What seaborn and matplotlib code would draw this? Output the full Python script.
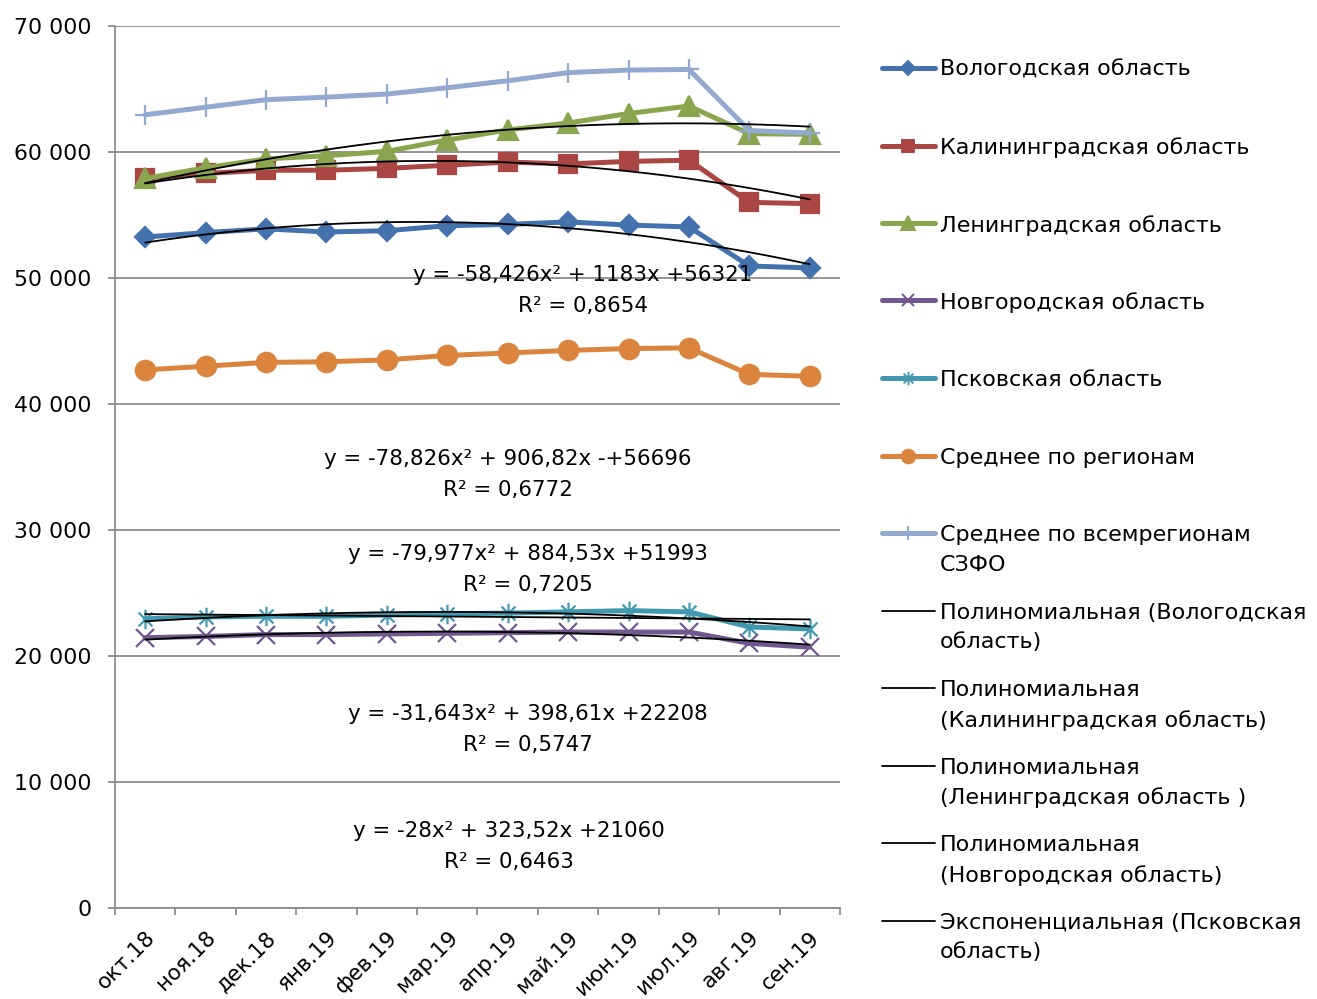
import numpy as np
import pandas as pd
import matplotlib
matplotlib.use("Agg")
import matplotlib.pyplot as plt
import seaborn as sns
from matplotlib.lines import Line2D
from matplotlib.path import Path
from matplotlib.ticker import FuncFormatter, FixedLocator

# ---- data ----
months = ["окт.18", "ноя.18", "дек.18", "янв.19", "фев.19", "мар.19",
          "апр.19", "май.19", "июн.19", "июл.19", "авг.19", "сен.19"]

vologda = [53250, 53600, 53900, 53650, 53750, 54150, 54250, 54450, 54200, 54050, 50950, 50800]
kaliningrad = [57950, 58300, 58550, 58550, 58700, 58950, 59200, 59050, 59250, 59350, 56000, 55900]
leningrad = [57900, 58750, 59450, 59700, 60050, 60950, 61750, 62300, 63050, 63650, 61450, 61400]
novgorod = [21450, 21550, 21700, 21700, 21750, 21800, 21850, 21900, 21900, 21900, 21000, 20700]
pskov = [22950, 23100, 23150, 23150, 23250, 23350, 23400, 23500, 23600, 23500, 22300, 22150]
avg_regions = [42700, 43000, 43300, 43350, 43500, 43850, 44050, 44250, 44400, 44450, 42350, 42200]
avg_szfo = [62950, 63550, 64150, 64350, 64600, 65100, 65650, 66300, 66500, 66550, 61700, 61500]

# excel-like "star" marker: x with a vertical bar
star = Path([(-1, -1), (1, 1), (-1, 1), (1, -1), (0, -1.4), (0, 1.4)],
            [Path.MOVETO, Path.LINETO, Path.MOVETO, Path.LINETO, Path.MOVETO, Path.LINETO])

series = [
    ("Вологодская область", vologda, "#4472AE", "D", 10.5),
    ("Калининградская область", kaliningrad, "#AA4643", "s", 13),
    ("Ленинградская область", leningrad, "#89A54E", "^", 14),
    ("Новгородская область", novgorod, "#71588F", "x", 13),
    ("Псковская область", pskov, "#4198AF", star, 14),
    ("Среднее по регионам", avg_regions, "#DB843D", "o", 14),
    ("Среднее по всемрегионам\nСЗФО", avg_szfo, "#93A9CF", "+", 14),
]

trend_labels = ["Полиномиальная (Вологодская\nобласть)",
                "Полиномиальная\n(Калининградская область)",
                "Полиномиальная\n(Ленинградская область )",
                "Полиномиальная\n(Новгородская область)",
                "Экспоненциальная (Псковская\nобласть)"]

equations = [
    ("y = -58,426x² + 1183x +56321", "R² = 0,8654", 7.24, 50240),
    ("y = -78,826x² + 906,82x -+56696", "R² = 0,6772", 6.0, 35640),
    ("y = -79,977x² + 884,53x +51993", "R² = 0,7205", 6.33, 28100),
    ("y = -31,643x² + 398,61x +22208", "R² = 0,5747", 6.33, 15400),
    ("y = -28x² + 323,52x +21060", "R² = 0,6463", 6.02, 6110),
]

sns.set_theme(style="white")
plt.rcParams["font.family"] = ["DejaVu Sans"]
plt.rcParams["text.color"] = "black"
grey = "#8C8C8C"

fig = plt.figure(figsize=(13.17, 9.99), dpi=100)
ax = fig.add_axes([0.0873, 0.0911, 0.5505, 0.8829])

x = np.arange(len(months))
for label, vals, color, marker, ms in series:
    df = pd.DataFrame({"x": x, "y": vals})
    sns.lineplot(data=df, x="x", y="y", ax=ax, color=color, lw=3.6,
                 marker=marker, markersize=ms, markeredgecolor=color,
                 markerfacecolor=color, markeredgewidth=1.6, zorder=3)

# trendlines (fitted from the series above)
xs = np.linspace(0, 11, 200)
for vals in [vologda, kaliningrad, leningrad, novgorod, pskov]:
    c = np.polyfit(x, vals, 2)
    ax.plot(xs, np.polyval(c, xs), color="black", lw=1.3, zorder=4)
b = np.polyfit(x, np.log(pskov), 1)
ax.plot(xs, np.exp(np.polyval(b, xs)), color="black", lw=1.3, zorder=4)

for eq, r2, ex, ey in equations:
    ax.text(ex, ey, eq, ha="center", va="center", fontsize=15.4, color="black", zorder=5)
    ax.text(ex, ey - 2460, r2, ha="center", va="center", fontsize=15.4, color="black", zorder=5)

ax.set_xlim(-0.5, 11.5)
ax.set_ylim(0, 70000)
ax.set_yticks(range(0, 70001, 10000))
ax.yaxis.set_major_formatter(FuncFormatter(lambda v, p: f"{int(v):,}".replace(",", " ")))
ax.yaxis.grid(True, color=grey, lw=1.3)
ax.set_xticks(x)
ax.set_xticklabels(months, rotation=45, ha="right", va="top", rotation_mode="anchor")
ax.xaxis.set_minor_locator(FixedLocator(np.arange(-0.5, 12, 1)))
ax.tick_params(axis="x", which="major", length=0, pad=14, labelsize=15.5, colors="black")
ax.tick_params(axis="x", which="minor", length=5, width=1.3, color=grey, direction="out", bottom=True)
ax.tick_params(axis="y", length=5, width=1.3, color=grey, direction="out", left=True, pad=12,
               labelsize=15.8, labelcolor="black")
ax.set_xlabel("")
ax.set_ylabel("")
for side in ["top", "right"]:
    ax.spines[side].set_visible(False)
for side in ["left", "bottom"]:
    ax.spines[side].set_color(grey)
    ax.spines[side].set_linewidth(1.3)

# legend drawn on the right side, Excel-style fixed slots
W, H = 1317.0, 999.0
handles = [(c, m, ms) for _, _, c, m, ms in series] + [("black", None, 0)] * len(trend_labels)
labels = [s[0] for s in series] + trend_labels
for i, ((color, marker, ms), lab) in enumerate(zip(handles, labels)):
    yp = 68 + 77.5 * i
    yf = 1 - yp / H
    lw = 3.6 if marker is not None else 1.3
    fig.add_artist(Line2D([882 / W, 935 / W], [yf, yf], color=color, lw=lw,
                          solid_capstyle="round", transform=fig.transFigure))
    if marker is not None:
        fig.add_artist(Line2D([908 / W], [yf], marker=marker, markersize=ms * 0.7, color=color,
                              markeredgewidth=1.4, transform=fig.transFigure))
    fig.text(940 / W, 1 - (yp - 8) / H, lab, ha="left", va="top", fontsize=16,
             linespacing=1.6, color="black")

fig.savefig("out.png", dpi=100)
